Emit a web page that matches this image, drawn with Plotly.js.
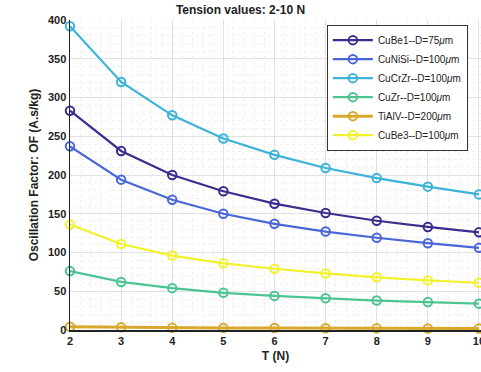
<!DOCTYPE html>
<html><head><meta charset="utf-8">
<script src="https://cdn.plot.ly/plotly-3.0.1.min.js"></script>
<style>html,body{margin:0;padding:0;background:#fff}#chart{width:481px;height:372px}</style>
</head><body><div id="chart"></div>
<script>
const tension = [2, 3, 4, 5, 6, 7, 8, 9, 10];
const cuBe1  = [283, 231, 200, 179, 163, 151, 141, 133, 126];
const cuNiSi = [237, 194, 168, 150, 137, 127, 119, 112, 106];
const cuCrZr = [392, 320, 277, 247, 226, 209, 196, 185, 175];
const cuZr   = [76, 62, 54, 48, 44, 41, 38, 36, 34];
const tiAlV  = [4.2, 3.4, 3.0, 2.7, 2.5, 2.3, 2.1, 2.0, 1.9];
const cuBe3  = [136, 111, 96, 86, 79, 73, 68, 64, 61];
const names = ['CuBe1--D=75<i>μ</i>m','CuNiSi--D=100<i>μ</i>m','CuCrZr--D=100<i>μ</i>m','CuZr--D=100<i>μ</i>m','TiAlV--D=200<i>μ</i>m','CuBe3--D=100<i>μ</i>m'];
const series = [cuBe1, cuNiSi, cuCrZr, cuZr, tiAlV, cuBe3];
const colors = ['#3b2d8e','#4a66d8','#3cb3d8','#4cc492','#d8a82c','#f2f22c'];
const traces = series.map((s,i)=>({
  x: tension, y: s, name: names[i], type:'scatter', mode:'lines+markers', cliponaxis:false,
  line:{color:colors[i], width:(i===4?3:2.2)},
  marker:{symbol:'circle-open', size:8.5, color:colors[i], line:{width:2, color:colors[i]}}
}));
const tf = {size:11, color:'#222', weight:'bold'};
const layout = {
  width:481, height:372,
  margin:{l:70, r:0, t:20, b:42},
  paper_bgcolor:'#fff', plot_bgcolor:'#fff',
  font:{family:'Liberation Sans, Arial, sans-serif', color:'#222'},
  title:{text:'<b>Tension values: 2-10 N</b>', font:{size:12, color:'#222'}, x:0.5, xanchor:'center', y:0.985, yanchor:'top'},
  xaxis:{range:[2,10.04], tickvals:tension, ticktext:tension.map(String), showline:true, linecolor:'#222', linewidth:1.5,
    showgrid:true, gridcolor:'#e2e2e2', zeroline:false, ticks:'', tickfont:tf, ticklabeloverflow:'allow',
    title:{text:'<b>T (N)</b>', font:{size:12, color:'#222'}, standoff:6},
    minor:{dtick:0.2, showgrid:true, gridcolor:'#f0f0f0', griddash:'dot'}},
  yaxis:{range:[0,400], dtick:50, showline:true, linecolor:'#222', linewidth:1.5,
    showgrid:true, gridcolor:'#e2e2e2', zeroline:false, ticks:'', tickfont:tf,
    title:{text:'<b>Oscillation Factor: OF (A.s/kg)</b>', font:{size:12, color:'#222'}, standoff:6},
    minor:{dtick:10, showgrid:true, gridcolor:'#f0f0f0', griddash:'dot'}},
  legend:{x:0.625, y:0.985, xanchor:'left', yanchor:'top', bgcolor:'#fff', bordercolor:'#333', borderwidth:1,
    font:{size:10, color:'#222'}, tracegroupgap:0, itemwidth:40},
  showlegend:true
};
Plotly.newPlot('chart', traces, layout, {displayModeBar:false, staticPlot:true});
</script></body></html>
